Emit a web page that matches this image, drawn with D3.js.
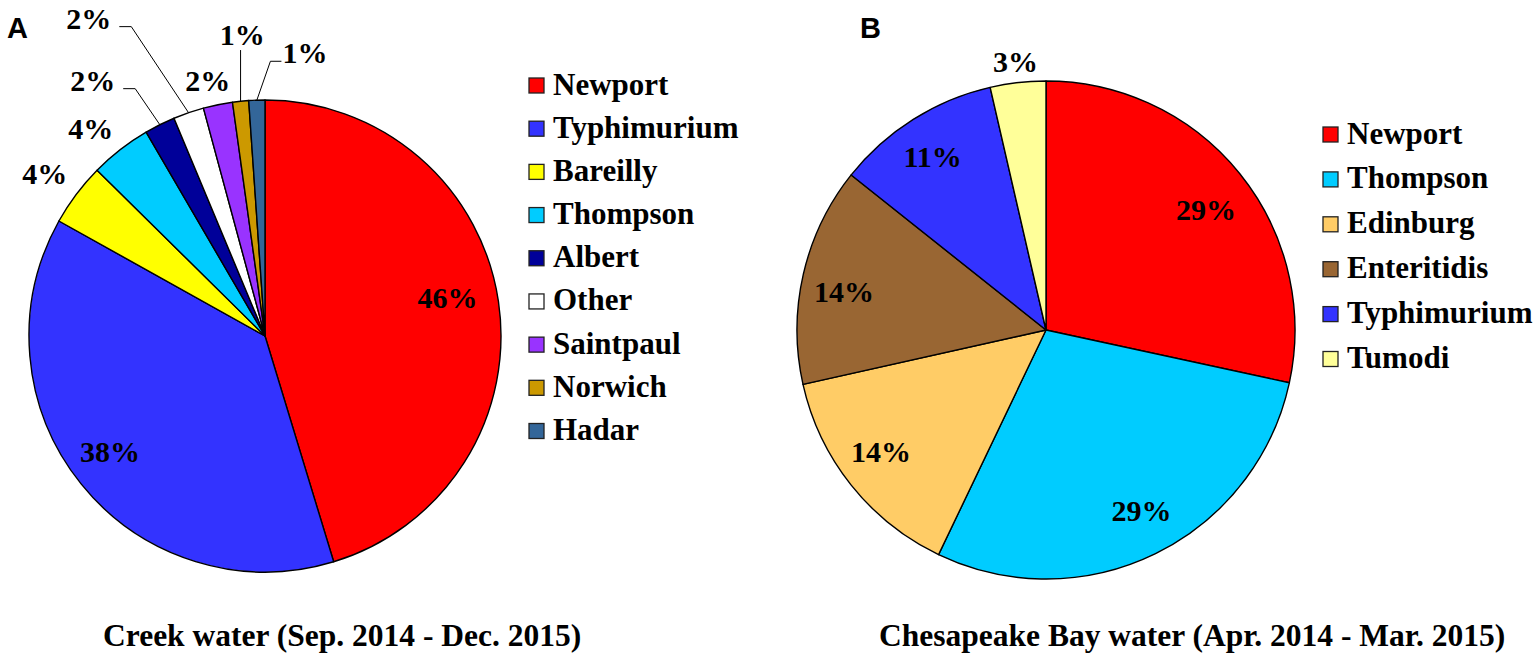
<!DOCTYPE html>
<html>
<head>
<meta charset="utf-8">
<script src="https://cdn.jsdelivr.net/npm/d3@7"></script>
<style>
    body { margin: 0; background: #fff; }
    svg { display: block; }
</style>
</head>
<body>
<div id="chart"></div>
<script>
const Width = 1536
const Height = 656

// panel A - creek water
const creekNames = ['Newport', 'Typhimurium', 'Bareilly', 'Thompson', 'Albert', 'Other', 'Saintpaul', 'Norwich', 'Hadar']
const creekValues = [45.3, 37.8, 4.3, 4.2, 2.1, 2.1, 2.0, 1.1, 1.1]
const creekLabels = ['46%', '38%', '4%', '4%', '2%', '2%', '2%', '1%', '1%']

// panel B - Chesapeake Bay water
const bayNames = ['Newport', 'Thompson', 'Edinburg', 'Enteritidis', 'Typhimurium', 'Tumodi']
const bayValues = [28.4, 28.7, 14.4, 14.2, 10.7, 3.6]
const bayLabels = ['29%', '29%', '14%', '14%', '11%', '3%']

const titles = ['Creek water (Sep. 2014 - Dec. 2015)', 'Chesapeake Bay water (Apr. 2014 - Mar. 2015)']

const creekColors = ['#ff0000', '#3333ff', '#ffff00', '#00ccff', '#000099', '#ffffff', '#9933ff', '#cc9900', '#336699']
const bayColors = ['#ff0000', '#00ccff', '#ffcc66', '#996633', '#3333ff', '#ffff99']

// label placement: [radius factor, angle shift in degrees], like dragged excel labels
const creekLabelPos = [[0.791, -3.5], [0.818, 2.3], [1.159, -0.5], [1.149, -2.2], [1.307, -7.5], [1.54, -10.1], [1.11, -1.1], [1.281, 1.6], [1.212, 10]]
const creekLeaders = [null, null, null, null, 'left', 'left', null, 'top', 'right']
const bayLabelPos = [[0.804, 1.9], [0.819, -1.85], [0.823, 2.2], [0.826, -2.2], [0.833, -0.9], [1.086, 0]]
const bayLeaders = [null, null, null, null, null, null]

const serif = '"Liberation Serif", "Times New Roman", serif'

const svg = d3.select('#chart')
    .append('svg')
    .attr('width', Width)
    .attr('height', Height)

svg.append('rect')
    .attr('width', Width)
    .attr('height', Height)
    .attr('fill', '#fff')

function drawPie(opts) {
    const data = opts.names.map((n, i) => ({ name: n, value: opts.values[i], label: opts.labels[i], i: i }))
    const r = opts.r
    const color = d3.scaleOrdinal().domain(opts.names).range(opts.colors)

    const pie = d3.pie().sort(null).value(d => d.value)
    const arc = d3.arc().innerRadius(0).outerRadius(r)
    const arcs = pie(data)

    const g = svg.append('g')
        .attr('transform', `translate(${opts.cx},${opts.cy})`)

    g.selectAll('path')
        .data(arcs)
        .enter().append('path')
        .attr('d', arc)
        .attr('fill', d => color(d.data.name))
        .attr('stroke', '#000')
        .attr('stroke-width', 1.4)
        .attr('stroke-linejoin', 'round')

    const labels = g.selectAll('text.pct')
        .data(arcs)
        .enter().append('text')
        .attr('class', 'pct')
        .attr('x', d => {
            const p = opts.labelPos[d.data.i]
            const m = (d.startAngle + d.endAngle) / 2 + p[1] * Math.PI / 180
            return Math.sin(m) * p[0] * r
        })
        .attr('y', d => {
            const p = opts.labelPos[d.data.i]
            const m = (d.startAngle + d.endAngle) / 2 + p[1] * Math.PI / 180
            return -Math.cos(m) * p[0] * r + 10.5
        })
        .attr('text-anchor', 'middle')
        .attr('font-family', serif)
        .attr('font-weight', 'bold')
        .attr('font-size', 30)
        .attr('fill', '#000')
        .text(d => d.data.label)

    // leader lines for the labels moved away from their slice
    labels.each(function(d) {
        const side = opts.leaders[d.data.i]
        if (!side) return
        const m = (d.startAngle + d.endAngle) / 2
        const px = Math.sin(m) * r
        const py = -Math.cos(m) * r
        const bb = this.getBBox()
        const base = +d3.select(this).attr('y')
        let pts
        if (side === 'left') {
            const x0 = bb.x + bb.width + 8
            pts = [[x0, base - 2], [x0 + 12, base - 2], [px, py]]
        } else if (side === 'right') {
            const x0 = bb.x - 1
            pts = [[x0, base - 2], [x0 - 11, base - 2], [px, py]]
        } else {
            pts = [[px, base + 5], [px, py]]
        }
        g.append('path')
            .attr('d', d3.line()(pts))
            .attr('fill', 'none')
            .attr('stroke', '#000')
            .attr('stroke-width', 1)
    })

    // legend
    const y = d3.scalePoint()
        .domain(opts.names)
        .range(opts.legendY)

    const leg = svg.append('g')
    const items = leg.selectAll('g')
        .data(data)
        .enter().append('g')
        .attr('transform', d => `translate(${opts.legendX},${y(d.name)})`)

    items.append('rect')
        .attr('x', 0)
        .attr('y', -7.5)
        .attr('width', 15)
        .attr('height', 15)
        .attr('fill', d => color(d.name))
        .attr('stroke', '#222')
        .attr('stroke-width', 1.3)

    items.append('text')
        .attr('x', 24)
        .attr('y', 9)
        .attr('font-family', serif)
        .attr('font-weight', 'bold')
        .attr('font-size', 31)
        .attr('fill', '#000')
        .text(d => d.name)

    svg.append('text')
        .attr('x', opts.titleX)
        .attr('y', 646)
        .attr('font-family', serif)
        .attr('font-weight', 'bold')
        .attr('font-size', 31.5)
        .attr('fill', '#000')
        .text(opts.title)

    svg.append('text')
        .attr('x', opts.letterX)
        .attr('y', 38)
        .attr('font-family', '"Liberation Sans", Arial, sans-serif')
        .attr('font-weight', 'bold')
        .attr('font-size', 29)
        .attr('fill', '#000')
        .text(opts.letter)
}

drawPie({
    names: creekNames, values: creekValues, labels: creekLabels, colors: creekColors,
    labelPos: creekLabelPos, leaders: creekLeaders,
    cx: 265, cy: 336, r: 236,
    legendX: 529, legendY: [85.5, 431],
    title: titles[0], titleX: 103,
    letter: 'A', letterX: 7
})

drawPie({
    names: bayNames, values: bayValues, labels: bayLabels, colors: bayColors,
    labelPos: bayLabelPos, leaders: bayLeaders,
    cx: 1046, cy: 330, r: 249,
    legendX: 1323, legendY: [134.5, 359],
    title: titles[1], titleX: 879,
    letter: 'B', letterX: 860
})
</script>
</body>
</html>
